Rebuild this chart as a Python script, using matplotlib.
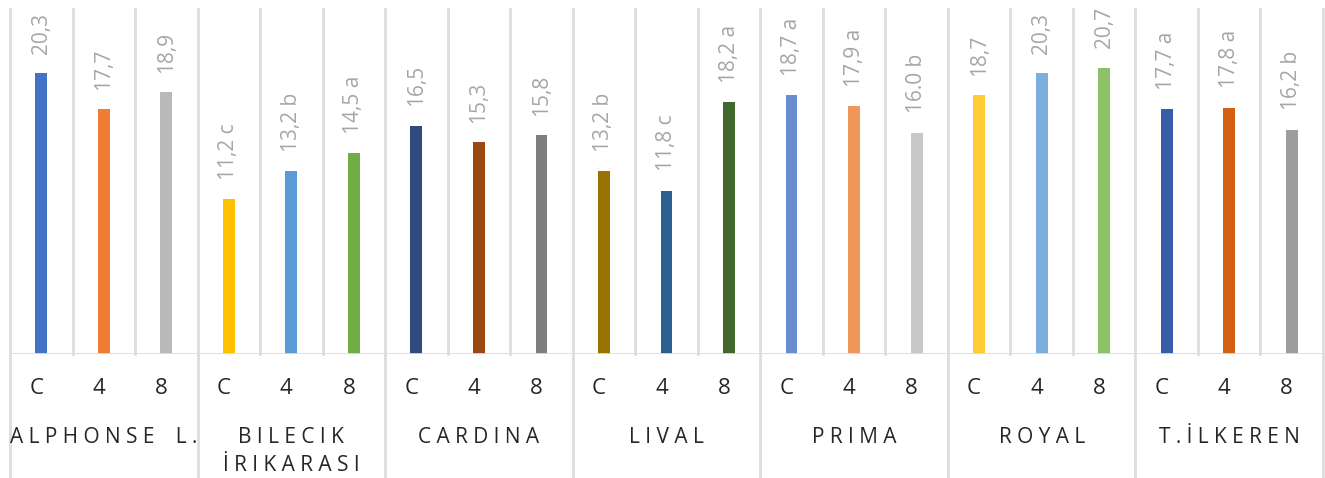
import matplotlib
matplotlib.use("Agg")
import matplotlib.pyplot as plt

# cultivar groups and treatment levels
groups = ["A L P H O N S E \u2002 L .", "B I L E C I K\nİ R I K A R A S I", "C A R D I N A",
          "L I V A L", "P R I M A", "R O Y A L", "T . İ L K E R E N"]
treatments = ["C", "4", "8"]

values = [20.3, 17.7, 18.9,
          11.2, 13.2, 14.5,
          16.5, 15.3, 15.8,
          13.2, 11.8, 18.2,
          18.7, 17.9, 16.0,
          18.7, 20.3, 20.7,
          17.7, 17.8, 16.2]

value_labels = ["20,3", "17,7", "18,9",
                "11,2 c", "13,2 b", "14,5 a",
                "16,5", "15,3", "15,8",
                "13,2 b", "11,8 c", "18,2 a",
                "18,7 a", "17,9 a", "16.0 b",
                "18,7", "20,3", "20,7",
                "17,7 a", "17,8 a", "16,2 b"]

bar_colors = ["#4472C4", "#ED7D31", "#B9B9B9",
              "#FFC000", "#5B9BD5", "#70AD47",
              "#2F4A7F", "#9C4713", "#7F7F7F",
              "#997300", "#2A5F92", "#43682B",
              "#698ED0", "#F1975A", "#C8C8C8",
              "#FFCD33", "#7CAFDD", "#8CC168",
              "#3A5BA8", "#D46012", "#9E9E9E"]

plt.rcParams["font.family"] = ["Open Sans", "DejaVu Sans"]

W, H = 1325, 478
fig = plt.figure(figsize=(W / 100, H / 100), dpi=100)
left, right, top, base = 10, 1323, 9, 354
ax = fig.add_axes([left / W, (H - base) / H, (right - left) / W, (base - top) / H])

n = len(values)
xs = list(range(n))
ax.bar(xs, values, width=0.19, color=bar_colors, zorder=3)
ax.set_xlim(-0.5, n - 0.5)
ax.set_ylim(0, (base - top) / 13.84)

for x, v, lab in zip(xs, values, value_labels):
    ax.annotate(lab, (x, v), xytext=(0, 14), textcoords="offset points",
                rotation=90, ha="center", va="bottom", fontsize=15,
                color="#A6A6A6", annotation_clip=False)

grid_c = "#DDDDDD"
trans = ax.get_xaxis_transform()
ext = -(H - base) / (base - top)
for i in range(n + 1):
    xb = i - 0.5
    y0 = ext if i % 3 == 0 else 0
    ax.plot([xb, xb], [y0, 1], transform=trans, color=grid_c, lw=2,
            clip_on=False, zorder=1)
ax.axhline(0, color=grid_c, lw=2, zorder=4)

# two-level category labels
row1 = -(388 - base) / (base - top)
row2 = -(427 - base) / (base - top)
for i in xs:
    ax.text(i - 0.08, row1, treatments[i % 3], transform=trans, ha="center",
            va="center", fontsize=16, color="#262626")
for g, name in enumerate(groups):
    ax.text(3 * g + 1, row2, name, transform=trans, ha="center", va="top",
            fontsize=15, color="#262626", linespacing=1.45)

ax.set_xticks([])
ax.set_yticks([])
for s in ax.spines.values():
    s.set_visible(False)

fig.savefig("out.png", dpi=100)
